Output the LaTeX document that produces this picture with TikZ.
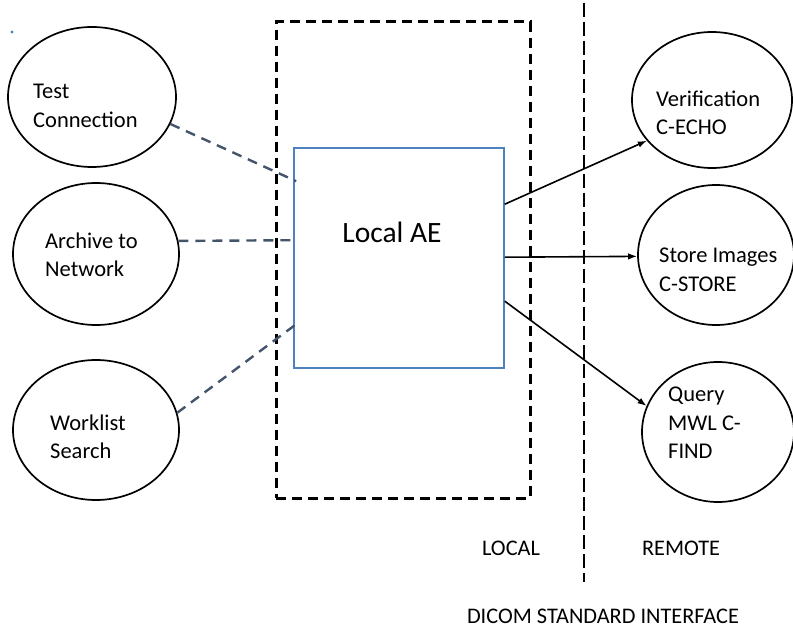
\documentclass[tikz,border=0pt]{standalone}
\usepackage{fontspec}
\setmainfont{Carlito}
\usetikzlibrary{shapes.geometric,arrows.meta,calc}
\definecolor{boxblue}{HTML}{4F81BD}
\definecolor{slate}{HTML}{44546A}
\begin{document}
\begin{tikzpicture}[x=1pt,y=-1pt,
  oval/.style={draw=black,line width=1.7pt,ellipse,inner sep=0pt},
  lbl/.style={font=\fontsize{22.5}{28.5}\selectfont,align=left,anchor=west,inner sep=0pt},
  btxt/.style={font=\fontsize{22.3}{24}\selectfont,inner sep=0pt},
  dconn/.style={draw=slate,line width=2.4pt,dash pattern=on 10pt off 7pt},
  arr/.style={draw=black,line width=1.6pt,-{Latex[length=9pt,width=6.5pt]}},
  frame/.style={draw=black,line width=3pt,dash pattern=on 10pt off 6pt},
  divider/.style={draw=black,line width=1.8pt,dash pattern=on 14pt off 5pt}]
\useasboundingbox (0,0) rectangle (793,631);
% small dot
\fill[boxblue] (12,32) circle (1.7pt);
% dashed local frame
\node[frame,minimum width=254pt,minimum height=476pt,inner sep=0pt] (frm) at (403,260) {};
% divider
\coordinate (dtop) at (584,3);
\coordinate (dbot) at (584,582);
\draw[divider] (dtop) -- (dbot);
% local AE
\node[draw=boxblue,line width=1.6pt,minimum width=210pt,minimum height=220pt,inner sep=0pt] (ae) at (399,258) {};
\node[font=\fontsize{29.5}{32}\selectfont,inner sep=0pt] (aetext) at (392,232) {Local AE};
% left ellipses
\node[oval,minimum width=168pt,minimum height=140pt] (tc) at (92,97) {};
\node[oval,minimum width=166pt,minimum height=142pt] (an) at (96,254) {};
\node[oval,minimum width=166pt,minimum height=140pt] (ws) at (96,430) {};
\node[lbl] (tct) at (33,106) {Test\\Connection};
\node[lbl] (ant) at (45,255) {Archive to\\Network};
\node[lbl] (wst) at (50,437) {Worklist\\Search};
% right ellipses
\node[oval,minimum width=160pt,minimum height=136pt] (ve) at (712,100) {};
\node[oval,minimum width=156pt,minimum height=140pt] (si) at (716,255) {};
\node[oval,minimum width=152pt,minimum height=140pt] (qm) at (718,432) {};
\node[lbl] (vet) at (656,113) {Verification\\C-ECHO};
\node[lbl] (sit) at (659,270) {Store Images\\C-STORE};
\node[lbl] (qmt) at (668,423) {Query\\MWL C-\\FIND};
% dashed connectors
\coordinate (ae1) at ($(ae.north west)+(3,34)$);
\coordinate (ae2) at ($(ae.north west)+(0,93)$);
\coordinate (ae3) at ($(ae.north west)+(3,177)$);
\draw[dconn] (tc.-19) -- (ae1);
\draw[dconn] (an.9) -- (ae2);
\draw[dconn] (ws.12) -- (ae3);
% arrows
\coordinate (ar1) at ($(ae.north east)+(0,57)$);
\coordinate (ar2) at ($(ae.north east)+(0,110)$);
\coordinate (ar3) at ($(ae.north east)+(0,154)$);
\draw[arr] (ar1) -- (ve.212);
\draw[arr] (ar2) -- (si.181);
\draw[arr] (ar3) -- (qm.160);
% bottom labels
\node[btxt] (loc) at (511,548) {LOCAL};
\node[btxt] (rem) at (681,548) {REMOTE};
\node[btxt] (dsi) at (603,616) {DICOM STANDARD INTERFACE};
\end{tikzpicture}
\end{document}
